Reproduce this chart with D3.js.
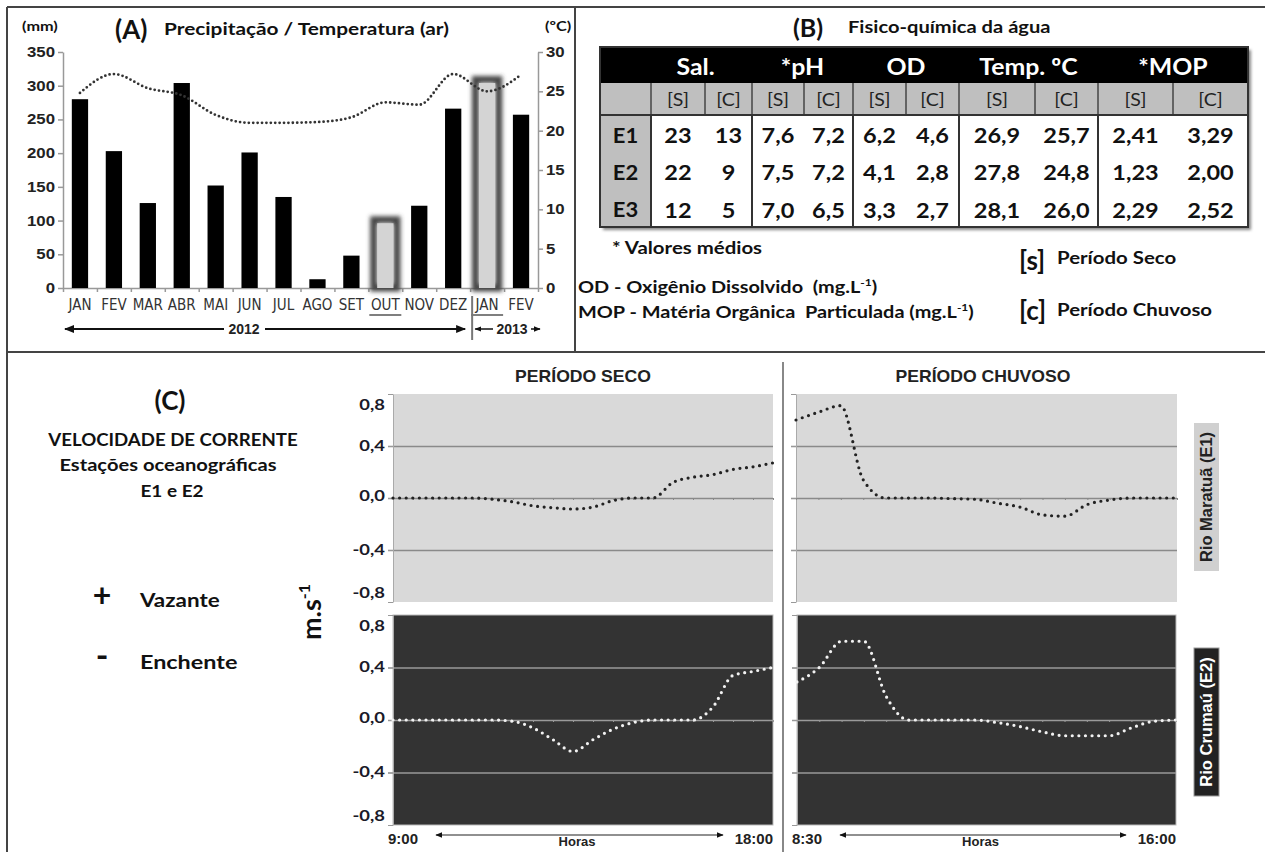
<!DOCTYPE html>
<html>
<head>
<meta charset="utf-8">
<script src="https://cdn.jsdelivr.net/npm/d3@7"></script>
<style>
body{margin:0;background:#fff;}
</style>
</head>
<body>
<div id="svgContainer"></div>
<script>
// (A) precipitation / air temperature
const monthLabels = ["JAN","FEV","MAR","ABR","MAI","JUN","JUL","AGO","SET","OUT","NOV","DEZ","JAN","FEV"];
const rainfall = [280,203,126,304,152,201,135,13,48,96,122,266,304,257];
const airTemp = [24.8,27.2,25.4,24.5,22.0,21.0,21.0,21.1,21.7,23.6,23.3,27.2,25.0,27.1];
const highlightMonths = [9,12];
const rainTicks = [0,50,100,150,200,250,300,350];
const tempTicks = [0,5,10,15,20,25,30];
const yearLabels = ["2012","2013"];

// (B) water table
const tableParams = ["Sal.","*pH","OD","Temp. ºC","*MOP"];
const tablePeriods = ["[S]","[C]"];
const stations = ["E1","E2","E3"];
const valuesE1 = ["23","13","7,6","7,2","6,2","4,6","26,9","25,7","2,41","3,29"];
const valuesE2 = ["22","9","7,5","7,2","4,1","2,8","27,8","24,8","1,23","2,00"];
const valuesE3 = ["12","5","7,0","6,5","3,3","2,7","28,1","26,0","2,29","2,52"];

// (C) current velocity (m/s)
const velTicks = [0.8,0.4,0,-0.4,-0.8];
const secoHours = ["9:00","18:00"];
const chuvosoHours = ["8:30","16:00"];
const secoE1 = [0,0,0,0,0,-0.01,-0.03,-0.06,-0.075,-0.085,-0.07,-0.02,0,0,0.12,0.16,0.18,0.22,0.24,0.27];
const secoE2 = [0,0,0,0,0,0,-0.01,-0.06,-0.15,-0.24,-0.15,-0.07,-0.02,0,0,0,0.1,0.34,0.37,0.4];
const chuvosoE1 = [0.6,0.66,0.71,0.14,0,0,0,-0.005,-0.01,-0.04,-0.07,-0.13,-0.14,-0.05,-0.015,0,0,0];
const chuvosoE2 = [0.29,0.4,0.6,0.6,0.18,0,0,0,0,-0.02,-0.05,-0.09,-0.12,-0.12,-0.12,-0.06,-0.01,0];

const width = 1265;
const height = 852;
const fCal = "Lato, 'Open Sans', sans-serif";
const fArial = "'Liberation Sans', Arial, sans-serif";
const fNarrow = "'Liberation Sans Narrow', 'DejaVu Sans Condensed', 'Liberation Sans', sans-serif";
const ptBR = d3.formatLocale({decimal:",", thousands:".", grouping:[3], currency:["R$",""], minus:"-"});

const svg = d3.select('#svgContainer').append('svg')
    .attr('width',width).attr('height',height)
    .style('display','block');

const defs = svg.append('defs');
defs.append('filter').attr('id','glow')
    .attr('x','-50%').attr('y','-50%').attr('width','200%').attr('height','200%')
    .append('feGaussianBlur').attr('stdDeviation',2.2);
defs.append('filter').attr('id','shadow')
    .attr('x','-10%').attr('y','-10%').attr('width','120%').attr('height','120%')
    .append('feGaussianBlur').attr('stdDeviation',1.5);

function addMarker(id, size){
    defs.append('marker').attr('id',id)
        .attr('viewBox','0 0 10 10').attr('refX',9).attr('refY',5)
        .attr('markerUnits','userSpaceOnUse')
        .attr('markerWidth',size).attr('markerHeight',size)
        .attr('orient','auto-start-reverse')
        .append('path').attr('d','M0,1 L10,5 L0,9 Z').attr('fill','#111');
}
addMarker('arrowBig',10);
addMarker('arrowSmall',7);

// the original figure is stretched sideways: widen glyphs around their anchor
function stretch(sel, sx){
    sel.each(function(){
        const t = d3.select(this);
        const x = +t.attr('x') || 0;
        t.attr('transform','translate(' + (x * (1 - sx)) + ',0) scale(' + sx + ',1)');
    });
    return sel;
}

function label(x, y, txt, size, opts){
    opts = opts || {};
    const t = svg.append('text')
        .attr('x',x).attr('y',y)
        .attr('font-family',opts.family || fCal)
        .attr('font-size',size)
        .attr('font-weight',opts.weight || 'bold')
        .attr('text-anchor',opts.anchor || 'start')
        .attr('fill',opts.fill || '#111')
        .style('white-space','pre')
        .text(txt);
    if (opts.sx) stretch(t, opts.sx);
    return t;
}

// frame
svg.append('line').attr('x1',7).attr('x2',width).attr('y1',7).attr('y2',7).attr('stroke','#444').attr('stroke-width',2);
svg.append('line').attr('x1',7).attr('x2',7).attr('y1',7).attr('y2',height).attr('stroke','#444').attr('stroke-width',2);
svg.append('line').attr('x1',7).attr('x2',width).attr('y1',352).attr('y2',352).attr('stroke','#444').attr('stroke-width',2);
svg.append('line').attr('x1',575).attr('x2',575).attr('y1',7).attr('y2',352).attr('stroke','#444').attr('stroke-width',2);
svg.append('line').attr('x1',783).attr('x2',783).attr('y1',362).attr('y2',height).attr('stroke','#888').attr('stroke-width',2);

// ---------- (A) ----------
const xA = d3.scaleBand().domain(d3.range(monthLabels.length)).range([63,538]).paddingInner(0.52).paddingOuter(0.26);
const xEdge = d3.scaleLinear().domain([0,monthLabels.length]).range([63,538]);
const yRain = d3.scaleLinear().domain([0,350]).range([288,52]);
const yTemp = d3.scaleLinear().domain([0,30]).range([288,52]);
const bw = xA.bandwidth();

const axL = svg.append('g').attr('transform','translate(63,0)')
    .call(d3.axisLeft(yRain).tickValues(rainTicks).tickSize(5).tickSizeOuter(0));
const axR = svg.append('g').attr('transform','translate(538,0)')
    .call(d3.axisRight(yTemp).tickValues(tempTicks).tickSize(5).tickSizeOuter(0));
const axB = svg.append('g').attr('transform','translate(0,288)')
    .call(d3.axisBottom(xEdge).tickValues(d3.range(monthLabels.length + 1)).tickSize(4).tickSizeOuter(0).tickFormat(''));
[axL, axR, axB].forEach(a => {
    a.select('.domain').attr('stroke','#999').attr('stroke-width',1.5);
    a.selectAll('line').attr('stroke','#999').attr('stroke-width',1.5);
    a.selectAll('text').attr('font-family',fArial).attr('font-size',14).attr('font-weight','bold').attr('fill','#222')
        .call(stretch, 1.2);
});

const axM = svg.append('g').attr('transform','translate(0,288)')
    .call(d3.axisBottom(xA).tickSize(0).tickPadding(11).tickFormat(i => monthLabels[i]));
axM.select('.domain').remove();
axM.selectAll('text').attr('font-family',fNarrow).attr('font-size',15).attr('fill','#333');

// highlighted months: glow behind grey bar
svg.append('g').selectAll('rect')
    .data(highlightMonths)
    .enter()
    .append('rect')
    .attr('x',i => xA(i) - 3.5)
    .attr('y',i => yRain(rainfall[i]) - 3.5)
    .attr('width',bw + 7)
    .attr('height',i => 288 - yRain(rainfall[i]) + 3.5)
    .attr('fill','none')
    .attr('stroke','#444')
    .attr('stroke-width',7)
    .attr('filter','url(#glow)');

svg.append('g').selectAll('rect')
    .data(rainfall)
    .enter()
    .append('rect')
    .attr('x',(d,i) => xA(i))
    .attr('y',d => yRain(d))
    .attr('width',bw)
    .attr('height',d => 288 - yRain(d))
    .attr('fill',(d,i) => highlightMonths.includes(i) ? '#d4d4d4' : '#000');

svg.append('path')
    .datum(airTemp)
    .attr('d',d3.line().x((d,i) => xA(i) + bw/2).y(d => yTemp(d)).curve(d3.curveMonotoneX))
    .attr('fill','none')
    .attr('stroke','#333')
    .attr('stroke-width',2.8)
    .attr('stroke-dasharray','0,4.4')
    .attr('stroke-linecap','round');

// underlines + separator between years
highlightMonths.forEach(i => {
    svg.append('line')
        .attr('x1',xA(i) + bw/2 - 16).attr('x2',xA(i) + bw/2 + 16)
        .attr('y1',315).attr('y2',315)
        .attr('stroke','#555').attr('stroke-width',1.3);
});
svg.append('line').attr('x1',xEdge(12) + 2).attr('x2',xEdge(12) + 2).attr('y1',296).attr('y2',340)
    .attr('stroke','#777').attr('stroke-width',2);

// year arrows
svg.append('line').attr('x1',xEdge(0) + 2).attr('x2',224).attr('y1',329).attr('y2',329)
    .attr('stroke','#111').attr('stroke-width',2).attr('marker-start','url(#arrowBig)');
svg.append('line').attr('x1',265).attr('x2',xEdge(12) - 5).attr('y1',329).attr('y2',329)
    .attr('stroke','#111').attr('stroke-width',2).attr('marker-end','url(#arrowBig)');
label(244,334,yearLabels[0],14,{family:fArial,anchor:'middle',fill:'#222'});
svg.append('line').attr('x1',xEdge(12) + 5).attr('x2',493).attr('y1',329).attr('y2',329)
    .attr('stroke','#111').attr('stroke-width',1.5).attr('marker-start','url(#arrowSmall)');
svg.append('line').attr('x1',531).attr('x2',540).attr('y1',329).attr('y2',329)
    .attr('stroke','#111').attr('stroke-width',1.5).attr('marker-end','url(#arrowSmall)');
label(512,334,yearLabels[1],14,{family:fArial,anchor:'middle',fill:'#222'});

label(115,39,"(A)",26);
label(164,35,"Precipitação / Temperatura (ar)",17.5,{sx:1.19});
label(22,31,"(mm)",13,{sx:1.25});
label(545,31,"(ºC)",13,{sx:1.25});

// ---------- (B) ----------
const colEdges = [600,651,705,752,804,853,906,959,1035,1098,1173,1248];
const colCenter = i => (colEdges[i] + colEdges[i+1]) / 2;
const rowY = d3.scaleBand().domain(stations).range([115,227]);
const tableValues = [valuesE1, valuesE2, valuesE3];

label(793,37,"(B)",25);
label(848,33,"Fisico-química da água",16.5,{sx:1.22});

svg.append('rect').attr('x',603).attr('y',50).attr('width',648).attr('height',180)
    .attr('fill','#888').attr('filter','url(#shadow)');
svg.append('rect').attr('x',600).attr('y',47).attr('width',648).attr('height',180).attr('fill','#fff');
svg.append('rect').attr('x',600).attr('y',47).attr('width',648).attr('height',36).attr('fill','#000');
svg.append('rect').attr('x',600).attr('y',83).attr('width',648).attr('height',32).attr('fill','#bfbfbf');
svg.append('rect').attr('x',600).attr('y',115).attr('width',51).attr('height',112).attr('fill','#bfbfbf');

svg.append('g').selectAll('line')
    .data(colEdges.slice(1,-1))
    .enter()
    .append('line')
    .attr('x1',d => d).attr('x2',d => d).attr('y1',83).attr('y2',115)
    .attr('stroke','#444').attr('stroke-width',1.5);
svg.append('g').selectAll('line')
    .data([1,3,5,7,9])
    .enter()
    .append('line')
    .attr('x1',i => colEdges[i]).attr('x2',i => colEdges[i]).attr('y1',115).attr('y2',227)
    .attr('stroke','#333').attr('stroke-width',2);
svg.append('line').attr('x1',600).attr('x2',1248).attr('y1',115).attr('y2',115).attr('stroke','#333').attr('stroke-width',2);
svg.append('rect').attr('x',600).attr('y',47).attr('width',648).attr('height',180)
    .attr('fill','none').attr('stroke','#333').attr('stroke-width',2);

svg.append('g').selectAll('text')
    .data(tableParams)
    .enter()
    .append('text')
    .attr('x',(d,g) => (colEdges[1 + 2*g] + colEdges[3 + 2*g]) / 2 - (g === 0 ? 6 : 0))
    .attr('y',75)
    .attr('text-anchor','middle')
    .attr('font-family',fCal).attr('font-weight','bold').attr('font-size',23)
    .attr('fill','#fff')
    .text(d => d)
    .call(stretch, 1.08);

svg.append('g').selectAll('text')
    .data(d3.range(10))
    .enter()
    .append('text')
    .attr('x',i => colCenter(i + 1))
    .attr('y',106)
    .attr('text-anchor','middle')
    .attr('font-family',fCal).attr('font-size',17)
    .attr('fill','#222')
    .text(i => tablePeriods[i % 2])
    .call(stretch, 1.15);

stations.forEach((st, r) => {
    const cy = rowY(st) + rowY.bandwidth()/2 + 2;
    label(colCenter(0), cy + 7, st, 20, {anchor:'middle', sx:1.1});
    svg.append('g').selectAll('text')
        .data(tableValues[r])
        .enter()
        .append('text')
        .attr('x',(d,i) => colCenter(i + 1))
        .attr('y',cy + 7.5)
        .attr('text-anchor','middle')
        .attr('font-family',fCal).attr('font-weight','bold').attr('font-size',21)
        .attr('fill','#111')
        .text(d => d)
        .call(stretch, 1.12);
});

function unitText(x, y, before, size, sx){
    const t = label(x, y, before, size, {sx:sx});
    t.append('tspan').attr('font-size',size*0.6).attr('dy',-size*0.4).text('-1');
    t.append('tspan').attr('dy',size*0.4).text(')');
    return t;
}
label(612,254,"* Valores médios",17,{sx:1.2});
unitText(578,293,"OD - Oxigênio Dissolvido  (mg.L",17,1.17);
unitText(578,318,"MOP - Matéria Orgânica  Particulada (mg.L",17,1.17);
label(1019,270,"[s]",26);
label(1057,264,"Período Seco",17,{sx:1.2});
label(1019,320,"[c]",26);
label(1057,316,"Período Chuvoso",17,{sx:1.2});

// ---------- (C) ----------
label(170,410,"(C)",26,{anchor:'middle'});
label(173,446,"VELOCIDADE DE CORRENTE",16.5,{anchor:'middle', sx:1.13});
label(168,471,"Estações oceanográficas",16.5,{anchor:'middle', sx:1.22});
label(172,497,"E1 e E2",16.5,{anchor:'middle', sx:1.15});
label(102,607,"+",32,{anchor:'middle'});
label(140,607,"Vazante",19.5,{sx:1.15});
label(102,668,"-",34,{anchor:'middle'});
label(140,669,"Enchente",19.5,{sx:1.2});

const ms = svg.append('text')
    .attr('transform','translate(321,612) rotate(-90)')
    .attr('text-anchor','middle')
    .attr('font-family',fCal).attr('font-weight','bold').attr('font-size',27)
    .attr('fill','#111')
    .text('m.s');
ms.append('tspan').attr('font-size',16).attr('dy',-11).text('-1');

label(583,382,"PERÍODO SECO",16,{family:fArial,anchor:'middle',fill:'#222',sx:1.1});
label(983,382,"PERÍODO CHUVOSO",16,{family:fArial,anchor:'middle',fill:'#222',sx:1.1});

function velocityPanel(values, hours, x0, x1, y0, y1, dark, showLabels){
    const x = d3.scaleLinear().domain([0, values.length - 1]).range([x0, x1]);
    const y = d3.scaleLinear().domain([-0.8, 0.8]).range([y1, y0]);
    const gridColor = dark ? '#9a9a9a' : '#8a8a8a';
    const g = svg.append('g');

    g.append('rect')
        .attr('x',x0).attr('y',y0).attr('width',x1 - x0).attr('height',y1 - y0)
        .attr('fill',dark ? '#333' : '#d9d9d9')
        .attr('stroke',dark ? '#bbb' : 'none');

    const grid = g.append('g').attr('transform','translate(' + (x0 - 5) + ',0)')
        .call(d3.axisLeft(y).tickValues(velTicks.filter(v => Math.abs(v) < 0.8)).tickSize(-(x1 - x0 + 5)).tickFormat(''));
    grid.select('.domain').remove();
    grid.selectAll('line').attr('stroke',gridColor).attr('stroke-width',1.5);

    const ax = g.append('g').attr('transform','translate(' + x0 + ',0)')
        .call(d3.axisLeft(y).tickValues(velTicks).tickSize(5).tickSizeOuter(0)
            .tickFormat(showLabels ? ptBR.format('.1f') : ''));
    ax.select('.domain').attr('stroke','#aaa');
    ax.selectAll('line').attr('stroke','#999');
    // the outer labels sit a little inside the plot edges in the original
    ax.selectAll('text')
        .attr('font-family',fCal).attr('font-weight','bold').attr('font-size',16).attr('fill','#1a1a28')
        .attr('dy',d => d === 0.8 ? '0.95em' : d === -0.8 ? '-0.3em' : d === 0 ? '0.15em' : '0.25em')
        .call(stretch, 1.15);

    const zx = g.append('g').attr('transform','translate(0,' + y(0) + ')')
        .call(d3.axisBottom(x).tickValues(d3.range(values.length)).tickSize(2).tickSizeOuter(0).tickFormat(''));
    zx.select('.domain').remove();
    zx.selectAll('line').attr('stroke',gridColor);

    g.append('path')
        .datum(values)
        .attr('d',d3.line().x((d,i) => x(i)).y(d => y(d)).curve(d3.curveMonotoneX))
        .attr('fill','none')
        .attr('stroke',dark ? '#f2f2f2' : '#222')
        .attr('stroke-width',3.2)
        .attr('stroke-dasharray','0,6.6')
        .attr('stroke-linecap','round');

    if (hours) {
        label(x0 - 5, 844, hours[0], 15, {family:fArial,fill:'#222'});
        label(x1, 844, hours[1], 15, {family:fArial,anchor:'end',fill:'#222'});
        g.append('line').attr('x1',x0 + 43).attr('x2',x1 - 50).attr('y1',835).attr('y2',835)
            .attr('stroke','#222').attr('stroke-width',1.2)
            .attr('marker-start','url(#arrowSmall)').attr('marker-end','url(#arrowSmall)');
        label((x0 + x1)/2 - 6, 846, "Horas", 13, {family:fArial,anchor:'middle',fill:'#222'});
    }
}

velocityPanel(secoE1, null, 393, 773, 394, 602, false, true);
velocityPanel(chuvosoE1, null, 796, 1177, 394, 602, false, false);
velocityPanel(secoE2, secoHours, 393, 773, 615, 825, true, true);
velocityPanel(chuvosoE2, chuvosoHours, 797, 1176, 615, 825, true, false);

// station side labels
svg.append('rect').attr('x',1194).attr('y',423).attr('width',25).attr('height',148).attr('fill','#d0d0d0');
svg.append('text').attr('transform','translate(1212,497) rotate(-90)')
    .attr('text-anchor','middle').attr('font-family',fArial).attr('font-weight','bold')
    .attr('font-size',16.5).attr('fill','#222')
    .text('Rio Maratuã (E1)');
svg.append('rect').attr('x',1194).attr('y',648).attr('width',25).attr('height',148)
    .attr('fill','#222').attr('stroke','#999');
svg.append('text').attr('transform','translate(1212,722) rotate(-90)')
    .attr('text-anchor','middle').attr('font-family',fArial).attr('font-weight','bold')
    .attr('font-size',16.5).attr('fill','#fff')
    .text('Rio Crumaú (E2)');
</script>
</body>
</html>
